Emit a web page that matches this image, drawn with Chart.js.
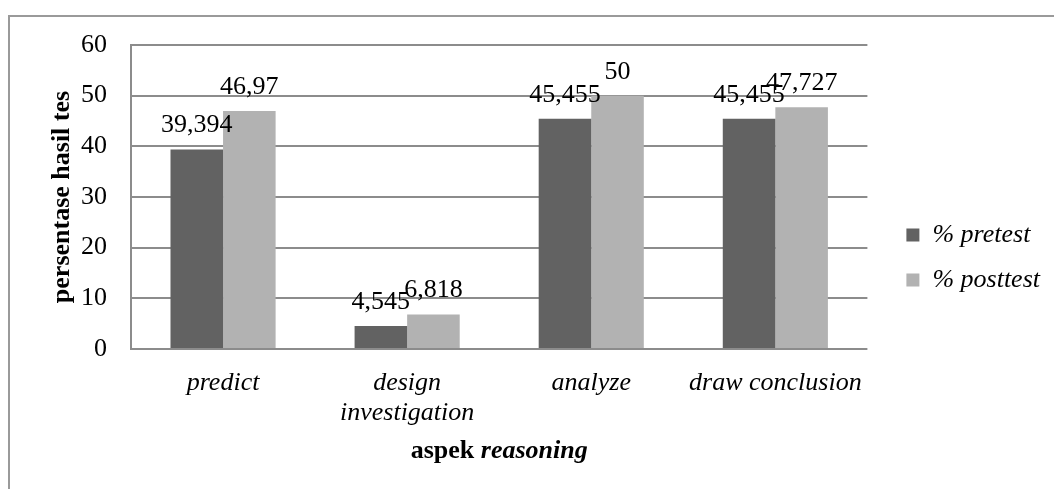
<!DOCTYPE html>
<html>
<head>
<meta charset="utf-8">
<script src="https://cdn.jsdelivr.net/npm/chart.js@4/dist/chart.umd.min.js"></script>
<style>
  html, body { margin: 0; padding: 0; background: #fff; }
  canvas { display: block; }
</style>
</head>
<body>
<canvas id="reasoningChart" width="1054" height="489"></canvas>
<script>
// data
const categories = ['predict', ['design', 'investigation'], 'analyze', 'draw conclusion'];
const pretestValues = [39.394, 4.545, 45.455, 45.455];
const posttestValues = [46.97, 6.818, 50, 47.727];
const seriesNames = ['% pretest', '% posttest'];
const yTitle = 'persentase hasil tes';
const xTitleBold = 'aspek ';
const xTitleItalic = 'reasoning';

const SERIF = "'Liberation Serif', 'Times New Roman', serif";
const GRID = '#8c8c8c';

// comma as decimal separator like the original
function fmt(v) {
    return String(v).replace('.', ',');
}

// grey frame around the whole figure
const framePlugin = {
    id: 'frame',
    beforeDraw(chart) {
        const ctx = chart.ctx;
        ctx.save();
        ctx.strokeStyle = '#9a9a9a';
        ctx.lineWidth = 2;
        ctx.strokeRect(9, 16, 1200, 600);
        ctx.restore();
    }
};

// value labels above each bar
const valueLabels = {
    id: 'valueLabels',
    afterDatasetsDraw(chart) {
        const ctx = chart.ctx;
        ctx.save();
        ctx.font = '26px ' + SERIF;
        ctx.fillStyle = '#000';
        ctx.textAlign = 'center';
        ctx.textBaseline = 'alphabetic';
        chart.data.datasets.forEach((ds, i) => {
            chart.getDatasetMeta(i).data.forEach((bar, j) => {
                ctx.fillText(fmt(ds.data[j]), bar.x, bar.y - 17);
            });
        });
        ctx.restore();
    }
};

// x axis title: "aspek" bold, "reasoning" bold italic
const xTitlePlugin = {
    id: 'xTitle',
    afterDraw(chart) {
        const ctx = chart.ctx;
        const area = chart.chartArea;
        ctx.save();
        ctx.fillStyle = '#000';
        ctx.textBaseline = 'alphabetic';
        const f1 = 'bold 26px ' + SERIF;
        const f2 = 'italic bold 26px ' + SERIF;
        ctx.font = f1;
        const w1 = ctx.measureText(xTitleBold).width;
        ctx.font = f2;
        const w2 = ctx.measureText(xTitleItalic).width;
        let x = (area.left + area.right) / 2 - (w1 + w2) / 2;
        ctx.textAlign = 'left';
        ctx.font = f1;
        ctx.fillText(xTitleBold, x, 458);
        ctx.font = f2;
        ctx.fillText(xTitleItalic, x + w1, 458);
        ctx.restore();
    }
};

// move the legend a bit right and down, where the original has it
const legendPlace = {
    id: 'legendPlace',
    afterLayout(chart) {
        const lg = chart.legend;
        const dx = 20, dy = 158;
        lg.left += dx; lg.right += dx;
        lg.top += dy; lg.bottom += dy;
    }
};

new Chart(document.getElementById('reasoningChart'), {
    type: 'bar',
    data: {
        labels: categories,
        datasets: [
            { label: seriesNames[0], data: pretestValues, backgroundColor: '#626262', borderWidth: 0 },
            { label: seriesNames[1], data: posttestValues, backgroundColor: '#b2b2b2', borderWidth: 0 }
        ]
    },
    options: {
        responsive: false,
        animation: false,
        devicePixelRatio: 1,
        layout: { padding: { top: 45, left: 20, right: 24, bottom: 0 } },
        datasets: { bar: { categoryPercentage: 0.571, barPercentage: 1.0 } },
        plugins: {
            tooltip: { enabled: false },
            legend: {
                position: 'right',
                align: 'start',
                labels: {
                    boxWidth: 13,
                    boxHeight: 13,
                    padding: 19,
                    color: '#000',
                    font: { family: SERIF, size: 26, style: 'italic' }
                }
            }
        },
        scales: {
            x: {
                grid: { display: false, drawTicks: false },
                border: { display: false },
                ticks: {
                    color: '#000',
                    padding: 19,
                    maxRotation: 0,
                    autoSkip: false,
                    font: { family: SERIF, size: 26, style: 'italic', lineHeight: 1.15 }
                },
                afterFit(s) { s.height = 140; s.paddingLeft = 0; s.paddingRight = 0; }
            },
            y: {
                min: 0,
                max: 60,
                ticks: {
                    stepSize: 10,
                    color: '#000',
                    padding: 24,
                    font: { family: SERIF, size: 26 }
                },
                grid: { color: GRID, lineWidth: 2, drawTicks: false },
                border: { display: true, color: GRID, width: 2 },
                title: {
                    display: true,
                    text: yTitle,
                    color: '#000',
                    padding: { top: 27, bottom: 0 },
                    font: { family: SERIF, size: 26, weight: 'bold' }
                },
                afterFit(s) { s.width = 111; s.paddingTop = 0; s.paddingBottom = 0; }
            }
        }
    },
    plugins: [framePlugin, valueLabels, xTitlePlugin, legendPlace]
});
</script>
</body>
</html>
